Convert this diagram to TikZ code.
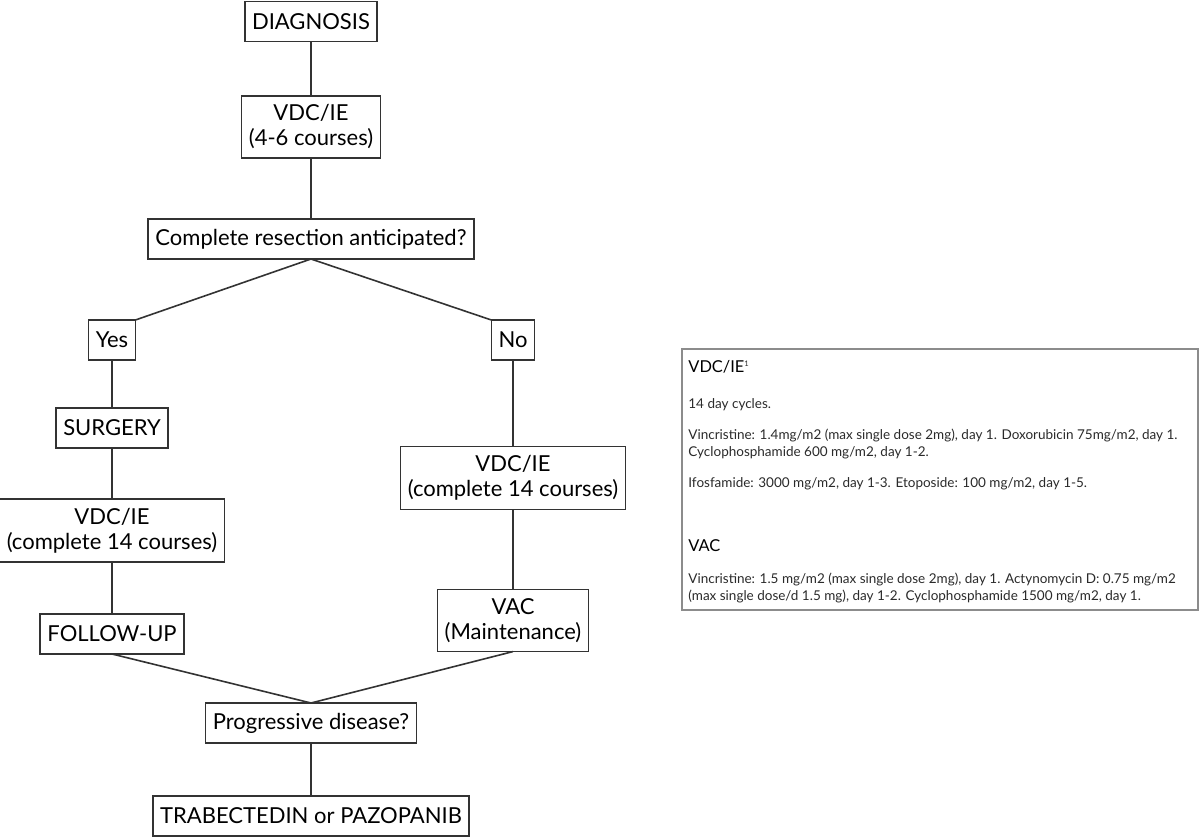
\documentclass[tikz,border=0pt]{standalone}
\usepackage{fontspec}
\setmainfont{Lato}
\usepackage{tkz-graph}

\definecolor{boxline}{HTML}{333333}
\definecolor{notegray}{HTML}{8C8C8C}
\definecolor{notetext}{HTML}{2A2A2A}

\tikzset{
  notebox/.style  = {draw=notegray, line width=0.8pt, minimum width=258pt,
                     minimum height=130.5pt, inner sep=0pt},
  notehead/.style = {anchor=base west, inner sep=0pt, text=black,
                     font=\fontsize{8.2}{9}\selectfont},
  noteline/.style = {anchor=base west, inner sep=0pt, text=notetext,
                     font=\fontsize{6.75}{8.5}\selectfont}
}

\begin{document}
\begin{tikzpicture}[x=0.5pt,y=-0.5pt]

\useasboundingbox (0,0) rectangle (1200,839);

  \GraphInit[vstyle=Normal]
  \tikzset{VertexStyle/.style={draw=boxline, fill=white, rectangle,
           line width=0.8pt, align=center, minimum height=20pt,
           inner xsep=3.6pt, inner ysep=4.5pt,
           font=\fontsize{11}{12.5}\selectfont}}
  \tikzset{EdgeStyle/.style={draw=boxline, line width=0.8pt}}

%%% main column
   \Vertex[x=311,y=21.5,L={DIAGNOSIS}]{diag}
   \Vertex[x=311,y=127,L={VDC/IE\\(4-6 courses)}]{vdcA}
   \Vertex[x=311,y=239,L={Complete resection anticipated?}]{resect}

%%% yes branch
   \Vertex[x=112,y=340,L={Yes}]{yes}
   \Vertex[x=112,y=428,L={SURGERY}]{surgery}
   \Vertex[x=112,y=530.5,L={VDC/IE\\(complete 14 courses)}]{vdcB}
   \Vertex[x=112,y=634,L={FOLLOW-UP}]{followup}

%%% no branch
   \Vertex[x=513,y=340,L={No}]{no}
   \Vertex[x=513,y=478,L={VDC/IE\\(complete 14 courses)}]{vdcC}
   \Vertex[x=513,y=620.5,L={VAC\\(Maintenance)}]{vac}

%%% end
   \Vertex[x=311,y=723,L={Progressive disease?}]{prog}
   \Vertex[x=311,y=816,L={TRABECTEDIN or PAZOPANIB}]{trab}

  \Edge(diag)(vdcA)
  \Edge(vdcA)(resect)
  \Edge(yes)(surgery)
  \Edge(surgery)(vdcB)
  \Edge(vdcB)(followup)
  \Edge(no)(vdcC)
  \Edge(vdcC)(vac)
  \Edge(prog)(trab)

  \draw[EdgeStyle] (resect.south) -- (yes.north east);
  \draw[EdgeStyle] (resect.south) -- (no.north west);
  \draw[EdgeStyle] (followup.south) -- (prog.north);
  \draw[EdgeStyle] (vac.south) -- (prog.north);

%%% regimen notes
  \node[notebox] (notes) at (940,479.5) {};
  \node[notehead] (vdchead) at (688,373) {VDC/IE\raisebox{3.2pt}{\fontsize{3.8}{4}\selectfont\color{notetext}1}};
  \node[noteline] (cycles)  at (688,409) {14 day cycles.};
  \node[noteline] (vdcdose) at (688,440) {Vincristine: 1.4mg/m2 (max single dose 2mg), day 1. Doxorubicin 75mg/m2, day 1.};
  \node[noteline] (cyclo)   at (688,457) {Cyclophosphamide 600 mg/m2, day 1-2.};
  \node[noteline] (ifos)    at (688,488) {Ifosfamide: 3000 mg/m2, day 1-3. Etoposide: 100 mg/m2, day 1-5.};
  \node[notehead] (vachead) at (688,552) {VAC};
  \node[noteline] (vacdose) at (688,583) {Vincristine: 1.5 mg/m2 (max single dose 2mg), day 1. Actynomycin D: 0.75 mg/m2};
  \node[noteline] (vacmax)  at (688,600) {(max single dose/d 1.5 mg), day 1-2. Cyclophosphamide 1500 mg/m2, day 1.};

\end{tikzpicture}
\end{document}
